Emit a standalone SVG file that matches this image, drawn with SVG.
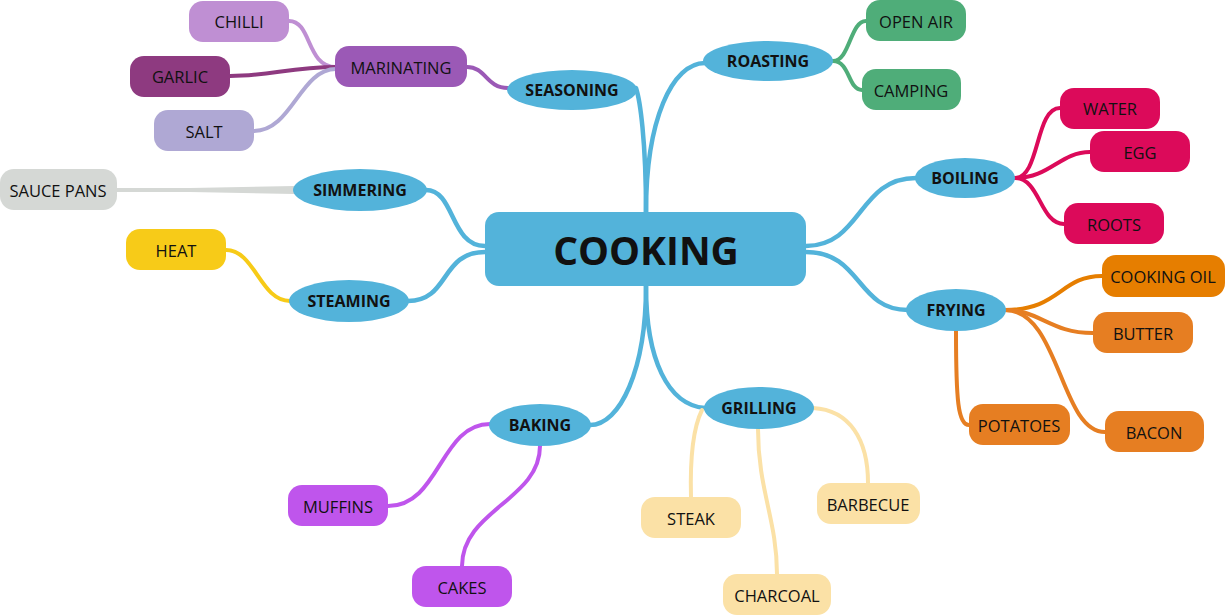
<svg xmlns="http://www.w3.org/2000/svg" width="1225" height="616" viewBox="0 0 1225 616">
<style>
text{font-family:"Open Sans","Noto Sans","Liberation Sans",sans-serif;fill:#111;text-anchor:middle;dominant-baseline:central}
.t{font-size:16.5px}
.m{font-size:16px;font-weight:bold}
.c{font-size:39px;font-weight:bold}
.main{fill:#53B3DA}
.ln{fill:none;stroke-linecap:round}
.bl{stroke:#53B3DA;stroke-width:4.5}
.s{stroke-width:4}
</style>
<rect width="1225" height="616" fill="#fff"/>
<g id="connectors">
<path class="ln bl" d="M646,212 C646,140 640,100 636,88"/>
<path class="ln bl" d="M646,212 C646,120 672,63 705,63"/>
<path class="ln bl" d="M806,246 C862,246 858,178 916,178"/>
<path class="ln bl" d="M806,252 C862,252 856,310 908,310"/>
<path class="ln bl" d="M646,286 C646,360 668,405 705,408"/>
<path class="ln bl" d="M646,286 C646,370 620,425 590,425"/>
<path class="ln bl" d="M485,246 C450,246 455,190 426,190"/>
<path class="ln bl" d="M485,252 C440,252 450,301 408,301"/>
<path class="ln s" stroke="#9B59B6" stroke-width="5" d="M508,88 C486,88 486,67 467,67"/>
<path class="ln s" stroke="#BF8FD3" d="M336,67 C306,67 312,21 289,21"/>
<path class="ln s" stroke="#8E3A80" stroke-width="5" d="M336,67 C290,67 270,76 230,76"/>
<path class="ln s" stroke="#AFA8D4" d="M336,69 C300,69 292,131 254,131"/>
<path class="ln s" stroke="#4FAD79" d="M833,61 C850,61 850,21 866,21"/>
<path class="ln s" stroke="#4FAD79" d="M833,61 C850,61 848,90 862,90"/>
<path class="ln s" stroke="#DC0A5A" d="M1015,178 C1040,178 1035,108 1060,108"/>
<path class="ln s" stroke="#DC0A5A" d="M1015,178 C1050,178 1060,152 1090,152"/>
<path class="ln s" stroke="#DC0A5A" d="M1015,178 C1040,178 1040,224 1064,224"/>
<path class="ln s" stroke="#E67E00" stroke-width="5" d="M1005,310 C1060,310 1060,276 1102,276"/>
<path class="ln s" stroke="#E67E22" d="M1005,310 C1040,310 1050,333 1093,333"/>
<path class="ln s" stroke="#E67E22" d="M1005,310 C1060,310 1060,432 1105,432"/>
<path class="ln s" stroke="#E67E22" stroke-width="5" d="M956,331 C956,400 958,425 969,425"/>
<path class="ln s" stroke="#FBE1A6" d="M702,410 C692,430 690,460 691,497"/>
<path class="ln s" stroke="#FBE1A6" stroke-width="5" d="M758,429 C758,490 777,520 777,574"/>
<path class="ln s" stroke="#FBE1A6" d="M813,408 C850,410 868,440 868,483"/>
<path class="ln s" stroke="#BF55EC" stroke-width="5" d="M490,424 C440,424 440,506 388,506"/>
<path class="ln s" stroke="#BF55EC" stroke-width="5" d="M540,446 C540,500 462,510 462,566"/>
<path fill="#D5D8D5" d="M117,188 L190,188 L294,186 L294,194 L190,192 L117,192 Z"/>
<path class="ln s" stroke="#F7CB18" stroke-width="5" d="M290,301 C260,301 255,250 226,250"/>
</g>
<g id="cooking"><rect x="485" y="212" width="321" height="74" rx="14" class="main"/><text class="c" x="646" y="249">COOKING</text></g>
<g id="seasoning"><ellipse cx="572" cy="90" rx="65" ry="20" class="main"/><text class="m" x="572" y="90">SEASONING</text></g>
<g id="roasting"><ellipse cx="768" cy="61" rx="65" ry="20" class="main"/><text class="m" x="768" y="61">ROASTING</text></g>
<g id="boiling"><ellipse cx="965" cy="178" rx="50" ry="20" class="main"/><text class="m" x="965" y="178">BOILING</text></g>
<g id="frying"><ellipse cx="956" cy="310" rx="50" ry="21" class="main"/><text class="m" x="956" y="310">FRYING</text></g>
<g id="grilling"><ellipse cx="759" cy="408" rx="55" ry="21" class="main"/><text class="m" x="759" y="408">GRILLING</text></g>
<g id="baking"><ellipse cx="540" cy="425" rx="51" ry="21" class="main"/><text class="m" x="540" y="425">BAKING</text></g>
<g id="steaming"><ellipse cx="349" cy="301" rx="60" ry="21" class="main"/><text class="m" x="349" y="301">STEAMING</text></g>
<g id="simmering"><ellipse cx="360" cy="190" rx="67" ry="21" class="main"/><text class="m" x="360" y="190">SIMMERING</text></g>
<g id="marinating"><rect x="335" y="46" width="132" height="41" rx="14" fill="#9B59B6"/><text class="t" x="401" y="67">MARINATING</text></g>
<g id="chilli"><rect x="189" y="1" width="100" height="41" rx="14" fill="#BF8FD3"/><text class="t" x="239" y="21">CHILLI</text></g>
<g id="garlic"><rect x="130" y="56" width="100" height="41" rx="14" fill="#8E3A80"/><text class="t" x="180" y="76">GARLIC</text></g>
<g id="salt"><rect x="154" y="110" width="100" height="41" rx="14" fill="#AFA8D4"/><text class="t" x="204" y="131">SALT</text></g>
<g id="openair"><rect x="866" y="0" width="100" height="41" rx="14" fill="#4FAD79"/><text class="t" x="916" y="21">OPEN AIR</text></g>
<g id="camping"><rect x="862" y="69" width="99" height="41" rx="14" fill="#4FAD79"/><text class="t" x="911" y="90">CAMPING</text></g>
<g id="water"><rect x="1060" y="88" width="100" height="41" rx="14" fill="#DC0A5A"/><text class="t" x="1110" y="108">WATER</text></g>
<g id="egg"><rect x="1090" y="131" width="100" height="41" rx="14" fill="#DC0A5A"/><text class="t" x="1140" y="152">EGG</text></g>
<g id="roots"><rect x="1064" y="203" width="100" height="41" rx="14" fill="#DC0A5A"/><text class="t" x="1114" y="224">ROOTS</text></g>
<g id="cookingoil"><rect x="1102" y="255" width="123" height="42" rx="14" fill="#E67E00"/><text class="t" x="1163" y="276">COOKING OIL</text></g>
<g id="butter"><rect x="1093" y="312" width="100" height="41" rx="14" fill="#E67E22"/><text class="t" x="1143" y="333">BUTTER</text></g>
<g id="bacon"><rect x="1105" y="411" width="99" height="41" rx="14" fill="#E67E22"/><text class="t" x="1154" y="432">BACON</text></g>
<g id="potatoes"><rect x="969" y="404" width="101" height="41" rx="14" fill="#E67E22"/><text class="t" x="1019" y="425">POTATOES</text></g>
<g id="barbecue"><rect x="817" y="483" width="103" height="41" rx="14" fill="#FBE1A6"/><text class="t" x="868" y="504">BARBECUE</text></g>
<g id="steak"><rect x="641" y="497" width="100" height="41" rx="14" fill="#FBE1A6"/><text class="t" x="691" y="518">STEAK</text></g>
<g id="charcoal"><rect x="723" y="574" width="108" height="41" rx="14" fill="#FBE1A6"/><text class="t" x="777" y="595">CHARCOAL</text></g>
<g id="muffins"><rect x="288" y="485" width="100" height="41" rx="14" fill="#BF55EC"/><text class="t" x="338" y="506">MUFFINS</text></g>
<g id="cakes"><rect x="412" y="566" width="100" height="41" rx="14" fill="#BF55EC"/><text class="t" x="462" y="587">CAKES</text></g>
<g id="heat"><rect x="126" y="229" width="100" height="41" rx="14" fill="#F7CB18"/><text class="t" x="176" y="250">HEAT</text></g>
<g id="saucepans"><rect x="0" y="169" width="117" height="41" rx="14" fill="#D5D8D5"/><text class="t" x="58" y="190">SAUCE PANS</text></g>
</svg>
